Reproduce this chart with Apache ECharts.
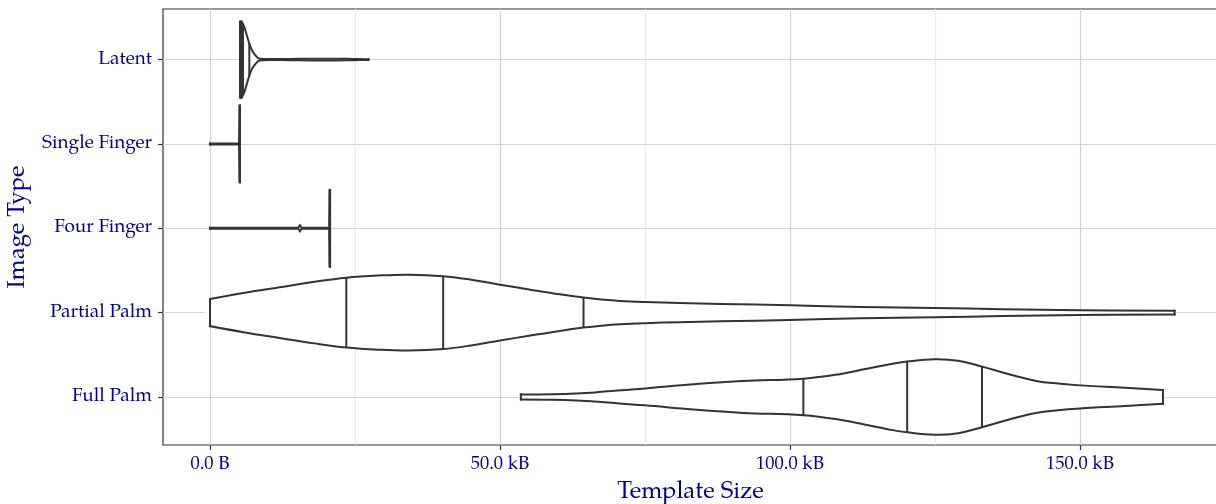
<!DOCTYPE html>
<html>
<head>
<meta charset="utf-8">
<script src="https://cdn.jsdelivr.net/npm/echarts@6/dist/echarts.min.js"></script>
<style>html,body{margin:0;padding:0;background:#fff}#c{width:1216px;height:504px}</style>
</head>
<body>
<div id="c"></div>
<script>
// ---- data (template size in kB; violin half-width in category units) ----
const categories = ['Full Palm', 'Partial Palm', 'Four Finger', 'Single Finger', 'Latent'];
const xTickValues = [0, 50, 100, 150];
const xTickLabels = ['0.0 B', '50.0 kB', '100.0 kB', '150.0 kB'];
const xMinorGrid = [25, 75, 125];

const fullPalmProfile = [[53.6,0.03],[59,0.033],[63.2,0.042],[67,0.058],[71,0.08],[75,0.10],[83.3,0.15],[91.9,0.19],[102.3,0.217],[108.6,0.27],[113,0.33],[117,0.385],[120.2,0.42],[125,0.448],[129,0.43],[133.1,0.359],[138.4,0.256],[142.4,0.19],[146.2,0.158],[150,0.137],[157.8,0.108],[164.3,0.081]];
const fullPalmQuartiles = [102.3, 120.2, 133.1];

const partialPalmProfile = [[0,0.16],[6,0.235],[12,0.30],[18,0.365],[23.5,0.414],[29,0.44],[34.3,0.45],[40.2,0.432],[45,0.39],[50,0.331],[55,0.275],[60.3,0.217],[64.4,0.178],[67.5,0.155],[70.7,0.138],[75,0.125],[81,0.113],[88,0.103],[100,0.087],[112.3,0.067],[125,0.055],[136.6,0.041],[150,0.028],[166.3,0.022]];
const partialPalmQuartiles = [23.5, 40.2, 64.4];

const fourFingerProfile = [[0,0.006],[15.2,0.006],[15.5,0.035],[15.8,0.006],[20.55,0.006],[20.62,0.455],[20.7,0.455]];
const fourFingerQuartiles = [20.66, 20.68, 20.7];

const singleFingerProfile = [[0,0.006],[5.02,0.006],[5.1,0.455],[5.17,0.455]];
const singleFingerQuartiles = [5.13, 5.15, 5.17];

const latentProfile = [[5.17,0.45],[5.43,0.455],[5.69,0.42],[6.0,0.37],[6.26,0.31],[6.78,0.19],[7.24,0.11],[7.84,0.05],[8.36,0.015],[9.0,0.007],[12,0.006],[15.5,0.009],[20,0.011],[23.5,0.009],[26,0.006],[27.3,0.005]];
const latentQuartiles = [5.43, 5.69, 6.78];

const profiles = [fullPalmProfile, partialPalmProfile, fourFingerProfile, singleFingerProfile, latentProfile];
const quartiles = [fullPalmQuartiles, partialPalmQuartiles, fourFingerQuartiles, singleFingerQuartiles, latentQuartiles];
const smoothness = [0.4, 0.4, 0, 0, 0.2];

// ---- chart ----
const FONT = 'Palatino, "Palatino Linotype", "URW Palladio L", P052, "TeX Gyre Pagella", "Liberation Serif", serif';
const TXT = '#00008B';
const INK = '#333333';

function interp(prof, x) {
  for (let k = 1; k < prof.length; k++) {
    if (x <= prof[k][0]) {
      const a = prof[k-1], b = prof[k];
      const t = (x - a[0]) / ((b[0] - a[0]) || 1);
      return a[1] + t * (b[1] - a[1]);
    }
  }
  return prof[prof.length-1][1];
}

function renderViolin(params, api) {
  const i = params.dataIndex;
  const yc = api.value(1);
  const prof = profiles[i];
  const sm = smoothness[i];
  const upper = prof.map(p => api.coord([p[0], yc + p[1]]));
  const lower = prof.map(p => api.coord([p[0], yc - p[1]]));
  const poly = upper.concat(lower.slice().reverse());
  const stroke = {stroke: INK, lineWidth: 2, fill: null, lineCap: 'square'};
  const children = [
    {type: 'polygon', shape: {points: poly, smooth: sm}, style: {fill: '#ffffff', stroke: null}},
    {type: 'polyline', shape: {points: upper, smooth: sm}, style: stroke},
    {type: 'polyline', shape: {points: lower, smooth: sm}, style: stroke},
    {type: 'line', shape: {x1: upper[0][0], y1: upper[0][1], x2: lower[0][0], y2: lower[0][1]}, style: stroke},
    {type: 'line', shape: {x1: upper[upper.length-1][0], y1: upper[upper.length-1][1], x2: lower[lower.length-1][0], y2: lower[lower.length-1][1]}, style: stroke}
  ];
  quartiles[i].forEach(q => {
    const h = interp(prof, q);
    const a = api.coord([q, yc + h]), b = api.coord([q, yc - h]);
    children.push({type: 'line', shape: {x1: a[0], y1: a[1], x2: b[0], y2: b[1]}, style: {stroke: INK, lineWidth: 2}});
  });
  return {type: 'group', children};
}

const chart = echarts.init(document.getElementById('c'), null, {renderer: 'canvas'});
chart.setOption({
  animation: false,
  backgroundColor: '#ffffff',
  grid: {left: 163, right: -2, top: 9, bottom: 59, show: true, borderColor: INK, borderWidth: 1.2, backgroundColor: 'transparent', outerBoundsMode: 'none', containLabel: false},
  xAxis: {
    type: 'value', min: -8.103, max: 173.79, splitNumber: 4,
    name: 'Template Size', nameLocation: 'middle', nameGap: 36,
    nameTextStyle: {fontFamily: FONT, fontSize: 24, color: TXT},
    axisLine: {show: false, onZero: false},
    axisTick: {show: true, length: 5, lineStyle: {color: INK, width: 1.2}, customValues: xTickValues},
    axisLabel: {customValues: xTickValues, margin: 10, fontFamily: FONT, fontSize: 18.5, color: TXT,
      formatter: v => { const k = xTickValues.indexOf(v); return k >= 0 ? xTickLabels[k] : ''; }},
    splitLine: {show: true, lineStyle: {color: '#d3d3d3', width: 1.2}}
  },
  yAxis: {
    type: 'value', min: 0.43, max: 5.6,
    name: 'Image Type', nameLocation: 'middle', nameGap: 118, nameRotate: 90,
    nameTextStyle: {fontFamily: FONT, fontSize: 24, color: TXT},
    axisLine: {show: false, onZero: false},
    axisTick: {show: true, length: 5, lineStyle: {color: INK, width: 1.2}, customValues: [1,2,3,4,5]},
    axisLabel: {customValues: [1,2,3,4,5], margin: 11, fontFamily: FONT, fontSize: 19, color: TXT,
      formatter: v => (Number.isInteger(v) && v >= 1 && v <= categories.length) ? categories[v-1] : ''},
    splitLine: {show: true, lineStyle: {color: '#d3d3d3', width: 1.2}}
  },
  series: [
    {
      type: 'line', data: [], silent: true, z: 1,
      markLine: {silent: true, symbol: ['none','none'], label: {show: false},
        lineStyle: {color: '#ebebeb', width: 1.2, type: 'solid'},
        data: xMinorGrid.map(v => ({xAxis: v}))}
    },
    {
      type: 'custom', z: 5, silent: true,
      renderItem: renderViolin,
      data: categories.map((c, i) => [0, i + 1])
    }
  ]
});
</script>
</body>
</html>
